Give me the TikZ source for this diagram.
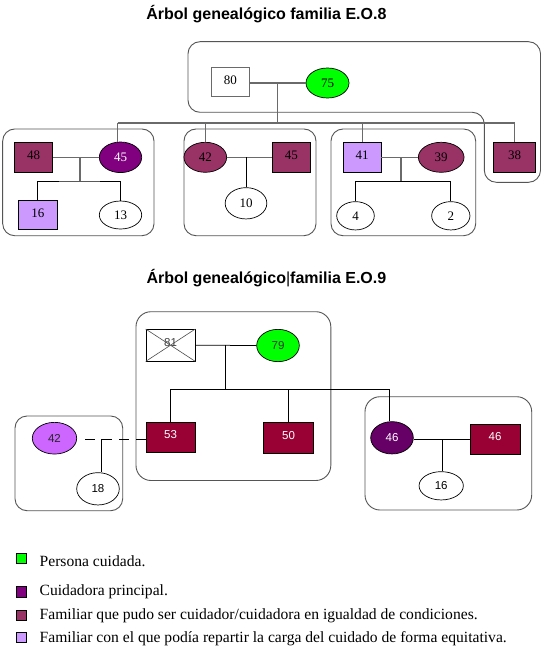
\documentclass[tikz,border=0pt]{standalone}
\usepackage{fontspec}
\setmainfont{Liberation Serif}
\newfontfamily\arialf{Liberation Sans}
\usetikzlibrary{shapes.geometric}
\definecolor{vgreen}{HTML}{00FF00}
\definecolor{cpurple}{HTML}{800080}
\definecolor{plum}{HTML}{993366}
\definecolor{lilac}{HTML}{CC99FF}
\definecolor{violetb}{HTML}{CC66FF}
\definecolor{crimson}{HTML}{990033}
\definecolor{dpurple}{HTML}{660066}
\definecolor{boxgray}{HTML}{555555}
\definecolor{linegray}{HTML}{6A6A6A}
\begin{document}
\begin{tikzpicture}[x=1bp,y=-1bp,
  famline/.style={draw=linegray, line width=1.1bp},
  kidline/.style={draw=black, line width=0.8bp},
  twoline/.style={draw=black, line width=0.75bp},
  grp/.style={draw=boxgray, line width=0.9bp, rounded corners=12bp},
  grpbox/.style={rectangle, draw=boxgray, line width=0.9bp, rounded corners=#1, inner sep=0pt},
  fone/.style={font=\rmfamily\fontsize{13bp}{13bp}\selectfont},
  ftwo/.style={font=\arialf\fontsize{11.5bp}{12bp}\selectfont},
  sqr/.style={rectangle, draw=black, line width=0.7bp, inner sep=0pt, text height=9bp, text depth=4bp},
  ell/.style={ellipse, draw=black, line width=0.7bp, inner sep=0pt},
  lsq/.style={rectangle, draw=black, line width=0.7bp, minimum size=10.5bp, inner sep=0pt},
  legtxt/.style={anchor=base west, inner sep=0pt, font=\rmfamily\fontsize{15.6bp}{18bp}\selectfont},
  ttl/.style={anchor=base, inner sep=0pt, font=\arialf\bfseries\fontsize{16bp}{18bp}\selectfont}
]
\useasboundingbox (0,0) rectangle (546,650);
\fill[white] (0,0) rectangle (546,650);

% ---------------- Title 1
\node[ttl] (t1) at (266.4,19.5) {Árbol genealógico familia E.O.8};

% top L-shaped group
\draw[grp] (188,80) -- (188,41.7) -- (540.5,41.7) -- (540.5,182.3) -- (484.3,182.3) -- (484.3,112.3) -- (188,112.3) -- cycle;

\node[sqr, fone, fill=white, draw=linegray, minimum width=37.3bp, minimum height=28.3bp] (f80) at (230.3,82) {80};
\node[ell, fone, fill=vgreen, minimum width=43bp, minimum height=30bp] (f75) at (327.5,83) {75};
\coordinate (m1) at (277.7,83);
\coordinate (j1) at (277.7,123);
\draw[famline] (f80.east |- f75.west) -- (f75.west);
\draw[famline] (m1) -- (j1);

% family boxes
\node[grpbox=12bp, minimum width=151.3bp, minimum height=106.7bp] (g1) at (78.35,182.35) {};
\node[grpbox=12bp, minimum width=132bp, minimum height=106.7bp] (g2) at (250,182.35) {};
\node[grpbox=12bp, minimum width=144.7bp, minimum height=106.7bp] (g3) at (403.35,182.35) {};

% family 1
\node[sqr, fone, fill=plum, minimum width=38.4bp, minimum height=30bp] (s48) at (33.5,157.3) {48};
\node[ell, fone, fill=cpurple, text=white, minimum width=42.4bp, minimum height=30.6bp] (e45) at (120.5,157.3) {45};
\node[sqr, fone, fill=lilac, minimum width=39bp, minimum height=29bp] (s16) at (37.8,214.5) {16};
\node[ell, fone, fill=white, minimum width=42.4bp, minimum height=28bp] (e13) at (120.5,215) {13};
\coordinate (c1) at (80,157.3);
\coordinate (k1) at (80,181);
\draw[famline] (s48.east) -- (e45.west);
\draw[famline] (c1) -- (k1);
\draw[kidline] (s16.north) |- (k1) -| (e13.north);

% family 2
\node[ell, fone, fill=plum, minimum width=42.7bp, minimum height=30bp] (e42) at (205.3,157.3) {42};
\node[sqr, fone, fill=plum, minimum width=37.3bp, minimum height=30bp] (s45) at (291.3,157.3) {45};
\node[ell, fone, fill=white, minimum width=41.7bp, minimum height=31.3bp] (e10) at (246,203.3) {10};
\draw[famline] (e42.east) -- (s45.west);
\draw[kidline] (e10.north) -- (e10.north |- s45.west);

% family 3
\node[sqr, fone, fill=lilac, minimum width=37.7bp, minimum height=30bp] (s41) at (362.2,157.3) {41};
\node[ell, fone, fill=plum, minimum width=45.7bp, minimum height=30bp] (e39) at (441.2,157.3) {39};
\node[ell, fone, fill=white, minimum width=37.6bp, minimum height=28.3bp] (e4) at (355.5,215.8) {4};
\node[ell, fone, fill=white, minimum width=38.3bp, minimum height=28.3bp] (e2) at (450.8,215.8) {2};
\coordinate (c3) at (401,157.3);
\coordinate (k3) at (401,181.7);
\draw[famline] (s41.east) -- (e39.west);
\draw[famline] (c3) -- (k3);
\draw[kidline] (e4.north) |- (k3) -| (e2.north);

% 38
\node[sqr, fone, fill=plum, minimum width=42.4bp, minimum height=30bp] (s38) at (514.5,157.3) {38};

% bus from grandparents
\coordinate (b1) at (117.5,123);
\draw[famline] (b1) -- (b1 |- e45.north);
\draw[famline] (b1) -- (s38.north |- j1) -- (s38.north);
\draw[famline] (e42.north) -- (e42.north |- j1);
\draw[famline] (s41.north) -- (s41.north |- j1);

% ---------------- Title 2
\node[ttl] (t2) at (266.4,283) {Árbol genealógico{\mdseries|}familia E.O.9};

\node[grpbox=15bp, minimum width=194.8bp, minimum height=168.8bp] (g4) at (233.4,396.1) {};
\node[grpbox=12bp, minimum width=107.7bp, minimum height=94.7bp] (g5) at (68.85,463.35) {};
\node[grpbox=15bp, minimum width=166.7bp, minimum height=113.3bp] (g6) at (448.35,453.35) {};

\node[sqr, ftwo, fill=white, text=black!75, minimum width=49bp, minimum height=31.7bp, text height=8.5bp, text depth=6bp] (s81) at (170.5,345.2) {81};
\draw[line width=0.6bp, draw=black!70] (s81.north west) -- (s81.south east) (s81.north east) -- (s81.south west);
\node[ell, ftwo, fill=vgreen, text=black!80, minimum width=42.6bp, minimum height=32.3bp] (e79) at (278,345.5) {79};
\node[sqr, ftwo, fill=crimson, text=white, minimum width=49bp, minimum height=30.4bp, text height=8.5bp, text depth=6bp] (s53) at (170.5,437.5) {53};
\node[sqr, ftwo, fill=crimson, text=white, minimum width=49.8bp, minimum height=31bp, text height=8.5bp, text depth=6bp] (s50) at (288.5,437.8) {50};
\node[ell, ftwo, fill=dpurple, text=white, minimum width=42.6bp, minimum height=32.3bp] (e46) at (392,437.8) {46};
\coordinate (m2) at (225,345.3);
\coordinate (j2) at (225,389.3);
\coordinate (d46) at (389.3,389.3);
\draw[twoline] (s81.east) -- (e79.west);
\draw[twoline] (m2) -- (j2);
\draw[twoline] (s53.north) |- (d46) -- (d46 |- e46.north);
\draw[twoline] (s50.north) -- (s50.north |- j2);

% left family
\node[ell, ftwo, fill=violetb, text=black!85, minimum width=44.4bp, minimum height=31.7bp] (e42b) at (54.5,438.2) {42};
\node[ell, ftwo, fill=white, minimum width=42.6bp, minimum height=32.3bp] (e18) at (98,488.8) {18};
\coordinate (c4) at (101.7,439.3);
\draw[twoline, dash pattern=on 10bp off 7bp] (s53.west |- c4) -- ([xshift=6bp]e42b.east |- c4);
\draw[twoline] (c4) -- (c4 |- e18.north);

% right family
\node[sqr, ftwo, fill=crimson, text=white, minimum width=50bp, minimum height=30.3bp, text height=8.5bp, text depth=6bp] (s46) at (495,439.2) {46};
\node[ell, ftwo, fill=white, minimum width=44.3bp, minimum height=28.3bp] (e16) at (441.2,485.8) {16};
\coordinate (c5) at (442.7,439.2);
\draw[twoline] (e46.east |- c5) -- (s46.west);
\draw[twoline] (c5) -- (c5 |- e16.north);

% ---------------- Legend
\node[lsq, fill=vgreen] (l1) at (21.3,558.3) {};
\node[lsq, fill=cpurple] (l2) at (21.3,592) {};
\node[lsq, fill=plum] (l3) at (21.3,615.5) {};
\node[lsq, fill=lilac] (l4) at (21.3,637.3) {};
\node[legtxt] (lt1) at (39.5,566.5) {Persona cuidada.};
\node[legtxt] (lt2) at (39.5,595) {Cuidadora principal.};
\node[legtxt] (lt3) at (39.5,619) {Familiar que pudo ser cuidador/cuidadora en igualdad de condiciones.};
\node[legtxt] (lt4) at (39.5,642) {Familiar con el que podía repartir la carga del cuidado de forma equitativa.};
\end{tikzpicture}
\end{document}
